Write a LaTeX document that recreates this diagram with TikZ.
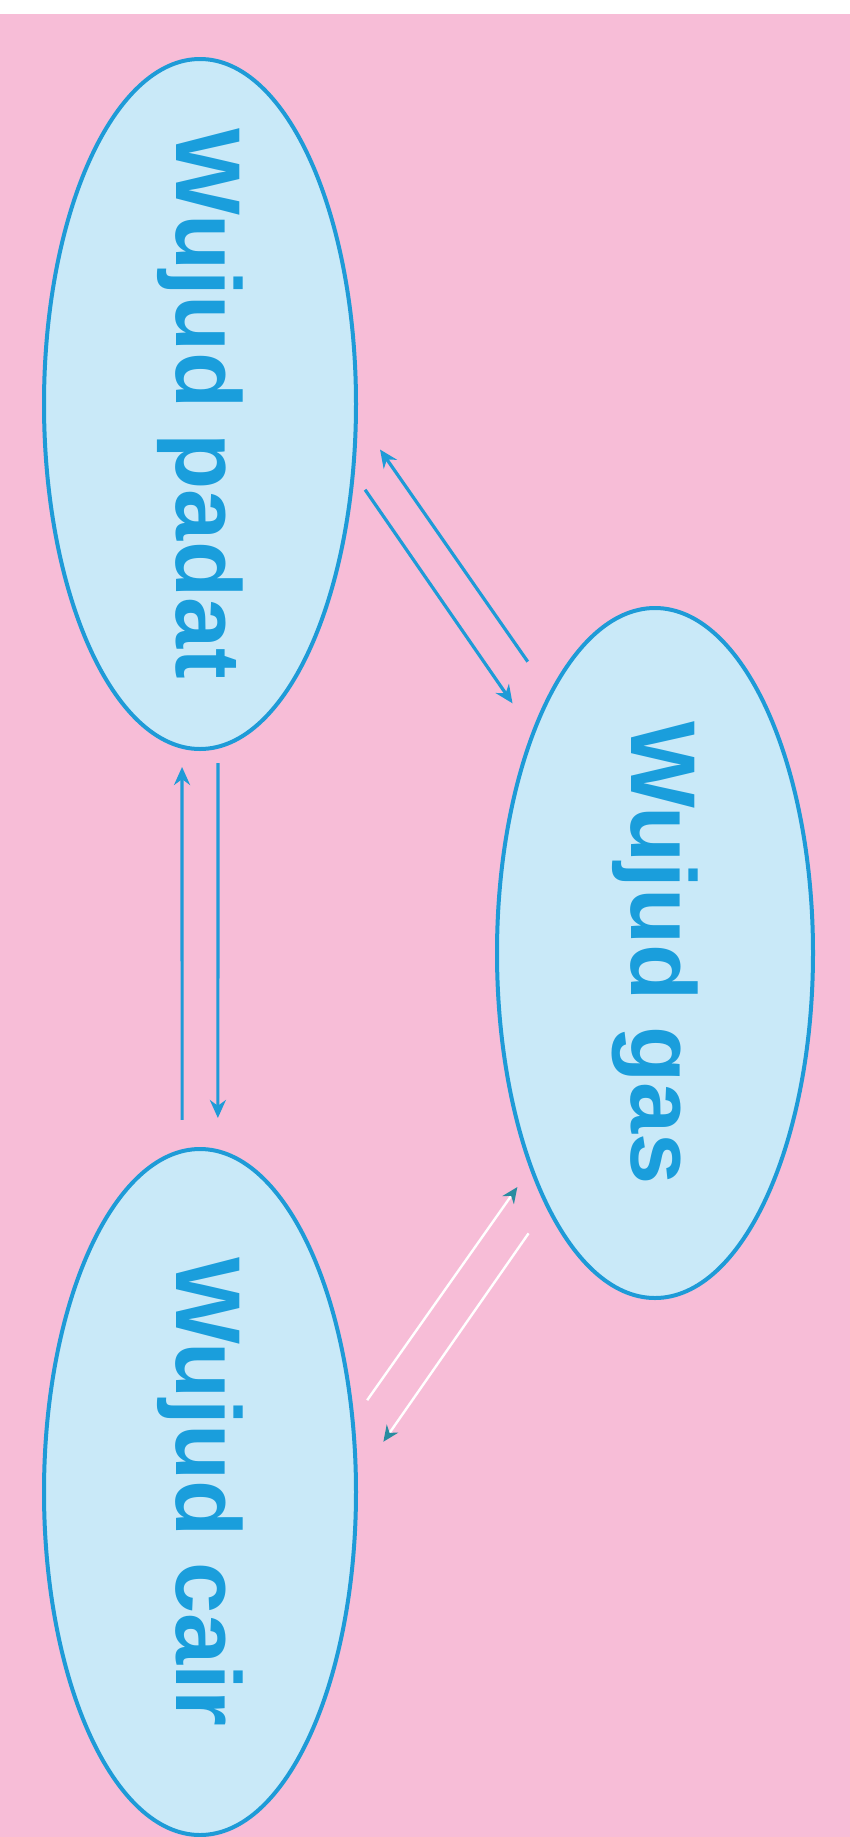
\documentclass[tikz,border=0pt]{standalone}
\usepackage{fontspec}
\setmainfont{Liberation Sans}
\usetikzlibrary{arrows.meta,shapes.geometric}
\definecolor{bgpink}{RGB}{247,189,215}
\definecolor{ellfill}{RGB}{201,233,248}
\definecolor{ellline}{RGB}{30,155,215}
\definecolor{txtblue}{RGB}{26,158,220}
\definecolor{tipteal}{RGB}{40,140,160}
\newcommand{\vtext}[1]{\rotatebox{-90}{#1}}
\begin{document}
\begin{tikzpicture}[x=0.5pt,y=-0.5pt,
  state/.style={ellipse, draw=ellline, line width=2pt, fill=ellfill, inner sep=0pt, outer sep=0pt},
  statetext/.style={text=txtblue, inner sep=0pt, font=\fontsize{46}{50}\selectfont\bfseries},
  bluearrow/.style={draw=ellline, line width=1.6pt, -{Stealth[length=9pt,width=8pt]}},
  whitearrow/.style={draw=white, line width=1.2pt, -{Stealth[length=8pt,width=7pt,color=tipteal]}}]
\useasboundingbox (0,0) rectangle (850,1837);
\fill[white] (0,0) rectangle (850,14);
\fill[bgpink] (0,14) rectangle (850,1837);
\node[state, minimum width=156pt, minimum height=345pt,
      label={[statetext]center:\vtext{Wujud padat}}] (padat) at (200,404) {};
\node[state, minimum width=158pt, minimum height=345pt,
      label={[statetext]center:\vtext{Wujud gas}}] (gas) at (655,953) {};
\node[state, minimum width=156pt, minimum height=343pt,
      label={[statetext]center:\vtext{Wujud cair}}] (cair) at (200,1492) {};
% padat <-> gas
\draw[bluearrow, shorten <=10.7pt, shorten >=18.2pt] (padat.-24.1) -- (gas.119.3);
\draw[bluearrow, shorten <=19.9pt, shorten >=21.1pt] (gas.112.3) -- (padat.-4.9);
% padat <-> cair
\draw[bluearrow, shorten <=15.65pt, shorten >=10.15pt] (cair.93) -- (padat.267);
\draw[bluearrow, shorten <=8.15pt, shorten >=16.65pt] (padat.-87) -- (cair.87);
% cair <-> gas
\draw[whitearrow, shorten <=12.65pt, shorten >=12pt] (cair.25) -- (gas.-120.65);
\draw[whitearrow, shorten <=16.65pt, shorten >=24pt] (gas.-113.6) -- (cair.4.5);
\end{tikzpicture}
\end{document}
